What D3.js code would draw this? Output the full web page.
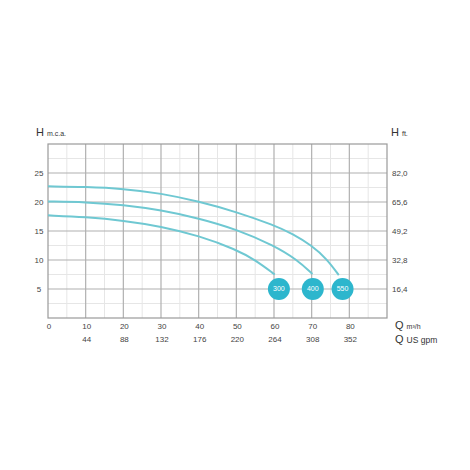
<!DOCTYPE html>
<html>
<head>
<meta charset="utf-8">
<script src="https://cdn.jsdelivr.net/npm/d3@7"></script>
<style>
  body { margin: 0; background: #fff; }
  svg { display: block; font-family: "Liberation Sans", Arial, sans-serif; }
</style>
</head>
<body>
<svg id="chart" width="470" height="470"></svg>
<script>
// pump curves, Q in m3/h, H in m.c.a.
const models = ["300", "400", "550"];
const curve300 = [[0, 17.7], [10, 17.4], [20, 16.8], [30, 15.8], [40, 14.2], [50, 11.8], [55, 10.0], [60.2, 7.5]];
const curve400 = [[0, 20.1], [10, 20.0], [20, 19.5], [30, 18.6], [40, 17.2], [50, 15.3], [60, 12.5], [66, 10.1], [70.2, 7.6]];
const curve550 = [[0, 22.7], [10, 22.6], [20, 22.3], [30, 21.5], [40, 20.1], [50, 18.3], [60, 16.0], [65, 14.5], [70, 12.5], [74, 10.2], [77.2, 7.4]];
const badgeQ = [61.3, 70.3, 78.2];
const badgeH = 5;

const qTicks = [0, 10, 20, 30, 40, 50, 60, 70, 80];
const gpmTicks = ["", "44", "88", "132", "176", "220", "264", "308", "352"];
const hTicks = [5, 10, 15, 20, 25];
const ftTicks = ["16,4", "32,8", "49,2", "65,6", "82,0"];

const svg = d3.select("#chart");
const plot = { left: 48, right: 387, top: 144, bottom: 318 };

const x = d3.scaleLinear().domain([0, 90]).range([plot.left, plot.right]);
const y = d3.scaleLinear().domain([0, 30]).range([plot.bottom, plot.top]);

const grid = svg.append("g");

// minor grid
grid.append("g").selectAll("line").data(d3.range(5, 90, 10)).join("line")
    .attr("x1", d => x(d)).attr("x2", d => x(d))
    .attr("y1", plot.top).attr("y2", plot.bottom)
    .attr("stroke", "#e6e6e6").attr("stroke-width", 1);
grid.append("g").selectAll("line").data(d3.range(2.5, 30, 5)).join("line")
    .attr("x1", plot.left).attr("x2", plot.right)
    .attr("y1", d => y(d)).attr("y2", d => y(d))
    .attr("stroke", "#e6e6e6").attr("stroke-width", 1);

// major grid
grid.append("g").selectAll("line").data(d3.range(10, 90, 10)).join("line")
    .attr("x1", d => x(d)).attr("x2", d => x(d))
    .attr("y1", plot.top).attr("y2", plot.bottom)
    .attr("stroke", "#b0b0b0").attr("stroke-width", 1.2);
grid.append("g").selectAll("line").data(d3.range(5, 30, 5)).join("line")
    .attr("x1", plot.left).attr("x2", plot.right)
    .attr("y1", d => y(d)).attr("y2", d => y(d))
    .attr("stroke", "#b0b0b0").attr("stroke-width", 1.2);

// frame
svg.append("rect")
    .attr("x", plot.left).attr("y", plot.top)
    .attr("width", plot.right - plot.left).attr("height", plot.bottom - plot.top)
    .attr("fill", "none").attr("stroke", "#9a9a9a").attr("stroke-width", 1.2);

// curves
const line = d3.line()
    .x(d => x(d[0]))
    .y(d => y(d[1]))
    .curve(d3.curveBasis);

svg.append("g").selectAll("path")
    .data([curve300, curve400, curve550])
    .join("path")
    .attr("d", line)
    .attr("fill", "none")
    .attr("stroke", "#6fc8d2")
    .attr("stroke-width", 2);

// model badges
const badges = svg.append("g").selectAll("g")
    .data(models)
    .join("g")
    .attr("transform", (d, i) => `translate(${x(badgeQ[i])},${y(badgeH)})`);
badges.append("circle")
    .attr("r", 11)
    .attr("fill", "#2db6cd");
badges.append("text")
    .attr("text-anchor", "middle")
    .attr("dy", "0.35em")
    .attr("fill", "#fff")
    .attr("font-size", 7)
    .text(d => d);

// left axis labels
svg.append("g").selectAll("text")
    .data(hTicks)
    .join("text")
    .attr("x", 39).attr("y", d => y(d))
    .attr("dy", "0.35em")
    .attr("text-anchor", "middle")
    .attr("font-size", 8)
    .attr("fill", "#444")
    .text(d => d);

// right axis labels
svg.append("g").selectAll("text")
    .data(ftTicks)
    .join("text")
    .attr("x", 392).attr("y", (d, i) => y(hTicks[i]))
    .attr("dy", "0.35em")
    .attr("font-size", 8)
    .attr("fill", "#444")
    .text(d => d);

// bottom labels
svg.append("g").selectAll("text")
    .data(qTicks)
    .join("text")
    .attr("x", d => x(d) + 1).attr("y", 329)
    .attr("text-anchor", "middle")
    .attr("font-size", 8)
    .attr("fill", "#444")
    .text(d => d);
svg.append("g").selectAll("text")
    .data(gpmTicks)
    .join("text")
    .attr("x", (d, i) => x(qTicks[i]) + 1).attr("y", 342)
    .attr("text-anchor", "middle")
    .attr("font-size", 8)
    .attr("fill", "#444")
    .text(d => d);

// axis titles
function title(px, py, big, small, smallSize) {
    const t = svg.append("text").attr("x", px).attr("y", py).attr("fill", "#333");
    t.append("tspan").attr("font-size", 11).text(big);
    t.append("tspan").attr("font-size", smallSize).attr("dx", 3).text(small);
}
title(36, 136, "H", "m.c.a.", 7);
title(391, 136, "H", "ft.", 7);
title(395, 329, "Q", "m³/h", 7);
title(395, 343, "Q", "US gpm", 8.5);
</script>
</body>
</html>
